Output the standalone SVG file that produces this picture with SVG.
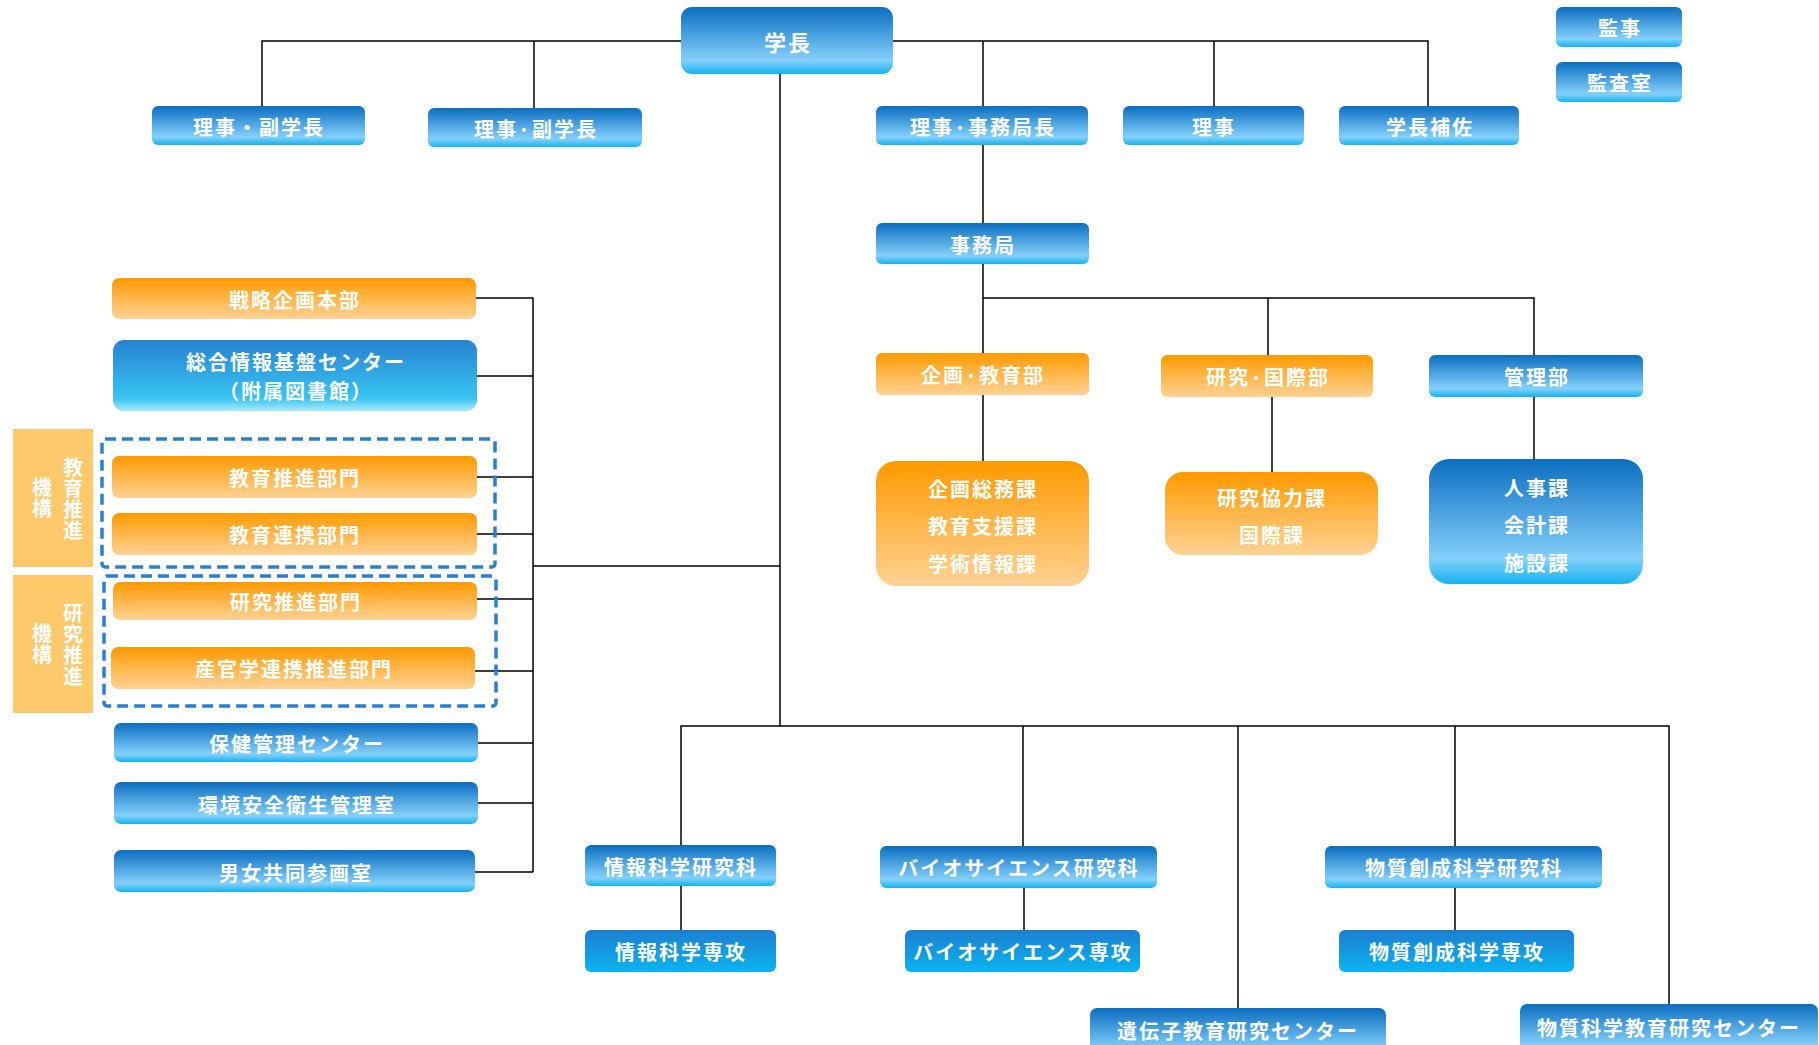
<svg xmlns="http://www.w3.org/2000/svg" width="1819" height="1045" viewBox="0 0 1819 1045">
<defs>
<linearGradient id="gb" x1="0" y1="0" x2="0" y2="1">
<stop offset="0" stop-color="#0b6ec0"/>
<stop offset="0.8" stop-color="#84d0fb"/>
<stop offset="1" stop-color="#14b3ef"/>
</linearGradient>
<linearGradient id="gb2" x1="0" y1="0" x2="0" y2="1">
<stop offset="0" stop-color="#1c7fd0"/>
<stop offset="1" stop-color="#0ab4f0"/>
</linearGradient>
<linearGradient id="gb3" x1="0" y1="0" x2="0" y2="1">
<stop offset="0" stop-color="#2682d0"/>
<stop offset="0.82" stop-color="#38c4f2"/>
<stop offset="1" stop-color="#a8eafc"/>
</linearGradient>
<linearGradient id="go" x1="0" y1="0" x2="0" y2="1">
<stop offset="0" stop-color="#ff9a00"/>
<stop offset="1" stop-color="#ffd294"/>
</linearGradient>
<style>
.b{fill:url(#gb);}
.b2{fill:url(#gb2);}
.b3{fill:url(#gb3);}
.o{fill:url(#go);}
.lab{fill:#fdc96a;}
.dash{fill:none;stroke:#2a7fd2;stroke-width:3.5;stroke-dasharray:11 6;}
.t{font-family:"Noto Sans CJK JP","Noto Sans CJK SC",sans-serif;font-weight:bold;font-size:20px;fill:#ffffff;text-anchor:middle;dominant-baseline:central;letter-spacing:2px;}
.tv{font-family:"Noto Sans CJK JP","Noto Sans CJK SC",sans-serif;font-weight:bold;font-size:20px;fill:#ffffff;text-anchor:middle;writing-mode:vertical-rl;letter-spacing:1px;}
.ln{fill:none;stroke:#000;stroke-width:1.5;}
</style>
</defs>
<rect width="1819" height="1045" fill="#ffffff"/>

<g id="connectors">
<path class="ln" d="M262 106 V41 H1428 V106"/>
<path class="ln" d="M534 41 V108"/>
<path class="ln" d="M983 41 V106"/>
<path class="ln" d="M1214 41 V106"/>
<path class="ln" d="M780 74 V726"/>
<path class="ln" d="M533 566 H780"/>
<path class="ln" d="M533 298 V872"/>
<path class="ln" d="M476 298 H533 M477 376 H533 M477 477 H533 M477 534 H533 M477 599 H533 M475 671 H533 M478 743 H533 M478 803 H533 M475 872 H533"/>
<path class="ln" d="M983 145 V223 M983 264 V353 M983 298 H1534 V355 M1268 298 V355 M983 395 V461 M1272 397 V472 M1534 397 V459"/>
<path class="ln" d="M681 845 V726 H1669 V1004 M681 886 V930 M1023 726 V846 M1024 888 V930 M1238 726 V1008 M1455 726 V846 M1455 888 V930"/>
</g>

<g id="n-gakucho"><rect class="b" x="681" y="7" width="212" height="67" rx="11"/><text class="t" x="788" y="41" style="font-size:22px">学長</text></g>
<g id="n-riji-fuku1"><rect class="b" x="152" y="106" width="213" height="39" rx="6"/><text class="t" x="259" y="126">理事・副学長</text></g>
<g id="n-riji-fuku2"><rect class="b" x="428" y="108" width="214" height="39" rx="6"/><text class="t" x="536" y="128">理事·副学長</text></g>
<g id="n-riji-jimu"><rect class="b" x="876" y="106" width="212" height="39" rx="6"/><text class="t" x="983" y="126">理事·事務局長</text></g>
<g id="n-riji"><rect class="b" x="1123" y="106" width="181" height="39" rx="6"/><text class="t" x="1214" y="126">理事</text></g>
<g id="n-hosa"><rect class="b" x="1339" y="106" width="180" height="39" rx="6"/><text class="t" x="1430" y="126">学長補佐</text></g>
<g id="n-kanji"><rect class="b" x="1556" y="7" width="126" height="40" rx="6"/><text class="t" x="1620" y="27">監事</text></g>
<g id="n-kansa"><rect class="b" x="1556" y="62" width="126" height="40" rx="6"/><text class="t" x="1620" y="82">監査室</text></g>

<g id="n-senryaku"><rect class="o" x="112" y="278" width="364" height="41" rx="7"/><text class="t" x="295" y="299">戦略企画本部</text></g>
<g id="n-sogo"><rect class="b3" x="113" y="340" width="364" height="71" rx="11"/><text class="t" x="296" y="361">総合情報基盤センター</text><text class="t" x="296" y="390">（附属図書館）</text></g>

<g id="g-kyoiku-kiko">
<rect class="lab" x="13" y="429" width="80" height="138"/>
<text class="tv" x="73" y="499">教育推進</text>
<text class="tv" x="42" y="498">機構</text>
<rect class="dash" x="102" y="439" width="393" height="128" rx="3"/>
</g>
<g id="n-kyoiku-suishin"><rect class="o" x="112" y="456" width="365" height="42" rx="7"/><text class="t" x="295" y="477">教育推進部門</text></g>
<g id="n-kyoiku-renkei"><rect class="o" x="112" y="513" width="365" height="42" rx="7"/><text class="t" x="295" y="534">教育連携部門</text></g>

<g id="g-kenkyu-kiko">
<rect class="lab" x="13" y="575" width="80" height="138"/>
<text class="tv" x="73" y="645">研究推進</text>
<text class="tv" x="42" y="644">機構</text>
<rect class="dash" x="104" y="576" width="392" height="130" rx="3"/>
</g>
<g id="n-kenkyu-suishin"><rect class="o" x="113" y="582" width="364" height="38" rx="7"/><text class="t" x="296" y="601">研究推進部門</text></g>
<g id="n-sankangaku"><rect class="o" x="111" y="647" width="364" height="42" rx="7"/><text class="t" x="294" y="668">産官学連携推進部門</text></g>
<g id="n-hoken"><rect class="b" x="114" y="723" width="364" height="39" rx="7"/><text class="t" x="297" y="743">保健管理センター</text></g>
<g id="n-kankyo"><rect class="b" x="114" y="782" width="364" height="42" rx="7"/><text class="t" x="297" y="804">環境安全衛生管理室</text></g>
<g id="n-danjo"><rect class="b" x="114" y="850" width="361" height="42" rx="7"/><text class="t" x="296" y="872">男女共同参画室</text></g>

<g id="n-jimukyoku"><rect class="b" x="876" y="223" width="213" height="41" rx="6"/><text class="t" x="983" y="244">事務局</text></g>
<g id="n-kikaku-kyoiku"><rect class="o" x="876" y="353" width="213" height="42" rx="6"/><text class="t" x="983" y="374">企画·教育部</text></g>
<g id="n-kenkyu-kokusai"><rect class="o" x="1161" y="355" width="212" height="42" rx="6"/><text class="t" x="1268" y="376">研究·国際部</text></g>
<g id="n-kanri"><rect class="b" x="1429" y="355" width="214" height="42" rx="6"/><text class="t" x="1537" y="376">管理部</text></g>
<g id="n-kikaku-ka"><rect class="o" x="876" y="461" width="213" height="125" rx="20"/><text class="t" x="983" y="488">企画総務課</text><text class="t" x="983" y="525">教育支援課</text><text class="t" x="983" y="563">学術情報課</text></g>
<g id="n-kenkyu-ka"><rect class="o" x="1165" y="472" width="213" height="83" rx="18"/><text class="t" x="1272" y="497">研究協力課</text><text class="t" x="1272" y="534">国際課</text></g>
<g id="n-jinji-ka"><rect class="b" x="1429" y="459" width="214" height="125" rx="20"/><text class="t" x="1537" y="487">人事課</text><text class="t" x="1537" y="524">会計課</text><text class="t" x="1537" y="562">施設課</text></g>

<g id="n-joho-kenkyuka"><rect class="b" x="585" y="845" width="191" height="41" rx="6"/><text class="t" x="681" y="866">情報科学研究科</text></g>
<g id="n-joho-senko"><rect class="b2" x="585" y="930" width="191" height="42" rx="6"/><text class="t" x="681" y="951">情報科学専攻</text></g>
<g id="n-bio-kenkyuka"><rect class="b" x="880" y="846" width="277" height="42" rx="6"/><text class="t" x="1019" y="867">バイオサイエンス研究科</text></g>
<g id="n-bio-senko"><rect class="b2" x="905" y="930" width="235" height="42" rx="6"/><text class="t" x="1023" y="951">バイオサイエンス専攻</text></g>
<g id="n-busshitsu-kenkyuka"><rect class="b" x="1325" y="846" width="277" height="42" rx="6"/><text class="t" x="1464" y="867">物質創成科学研究科</text></g>
<g id="n-busshitsu-senko"><rect class="b2" x="1339" y="930" width="235" height="42" rx="6"/><text class="t" x="1457" y="951">物質創成科学専攻</text></g>
<g id="n-idenshi"><rect class="b" x="1090" y="1008" width="296" height="52" rx="7"/><text class="t" x="1238" y="1030">遺伝子教育研究センター</text></g>
<g id="n-busshitsu-center"><rect class="b" x="1520" y="1004" width="298" height="52" rx="7"/><text class="t" x="1669" y="1027">物質科学教育研究センター</text></g>
</svg>
